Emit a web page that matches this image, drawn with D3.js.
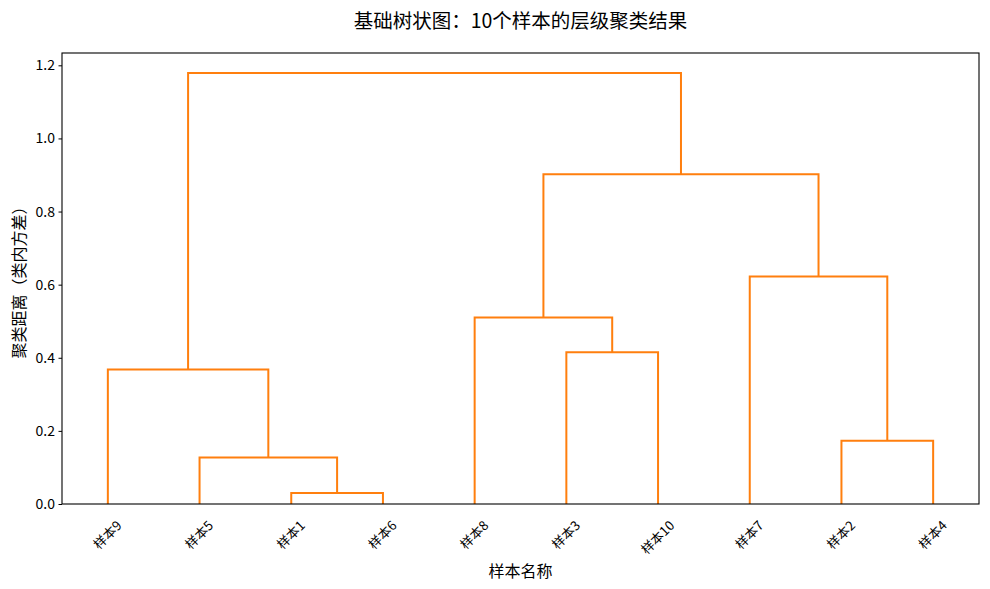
<!DOCTYPE html>
<html>
<head>
<meta charset="utf-8">
<script src="https://cdn.jsdelivr.net/npm/d3@7/dist/d3.min.js"></script>
<style>
  html, body { margin: 0; padding: 0; background: #fff; }
  svg { display: block; font-family: "Noto Sans CJK SC", "Noto Sans", sans-serif; }
</style>
</head>
<body>
<svg id="chart" width="990" height="589"></svg>
<script>
// Leaf order as drawn
const leaves = ["样本9", "样本5", "样本1", "样本6", "样本8", "样本3", "样本10", "样本7", "样本2", "样本4"];
// Merge steps: [left child, right child, height]; children are leaf names or merge ids "m#"
const mergeLeft   = ["样本1", "样本5", "样本9", "样本2", "样本3", "样本8", "样本7", "m5", "m2"];
const mergeRight  = ["样本6", "m0",   "m1",   "样本4", "样本10", "m4",  "m3",  "m6", "m7"];
const mergeHeight = [0.030, 0.127, 0.368, 0.173, 0.415, 0.510, 0.622, 0.902, 1.179];
const yTicks = [0.0, 0.2, 0.4, 0.6, 0.8, 1.0, 1.2];

const title = "基础树状图：10个样本的层级聚类结果";
const xLabel = "样本名称";
const yLabel = "聚类距离（类内方差）";

const W = 990, H = 589;
const m = { left: 62, right: 11, top: 53, bottom: 85 };
const pw = W - m.left - m.right, ph = H - m.top - m.bottom;
const color = "#ff7f0e";

const svg = d3.select("#chart");
const g = svg.append("g").attr("transform", `translate(${m.left},${m.top})`);

const x = d3.scaleLinear().domain([0, leaves.length * 10]).range([0, pw]);
const y = d3.scaleLinear().domain([0, 1.2337]).range([ph, 0]);

// positions
const pos = {};
leaves.forEach((l, i) => pos[l] = { x: 5 + 10 * i, h: 0 });
const links = [];
mergeHeight.forEach((h, i) => {
  const a = pos[mergeLeft[i]], b = pos[mergeRight[i]];
  links.push({ a, b, h });
  pos["m" + i] = { x: (a.x + b.x) / 2, h };
});

g.selectAll("path.link").data(links).join("path")
  .attr("class", "link")
  .attr("fill", "none")
  .attr("stroke", color)
  .attr("stroke-width", 2)
  .attr("d", d => `M${x(d.a.x)},${y(d.a.h)}V${y(d.h)}H${x(d.b.x)}V${y(d.b.h)}`);

// frame
g.append("rect").attr("x", 0).attr("y", 0).attr("width", pw).attr("height", ph)
  .attr("fill", "none").attr("stroke", "#000").attr("stroke-width", 1.1);

// y axis
const ya = g.append("g").call(d3.axisLeft(y).tickValues(yTicks).tickFormat(d3.format(".1f")).tickSize(3.5).tickPadding(3.5));
ya.select(".domain").remove();
ya.selectAll("text").attr("font-size", 14).attr("fill", "#000").attr("font-family", "Noto Sans CJK SC");
ya.selectAll("line").attr("stroke", "#000");

// x tick labels, rotated 45
const xl = g.append("g");
leaves.forEach((l, i) => {
  const t = xl.append("text").text(l)
    .attr("font-size", 13).attr("fill", "#000")
    .attr("text-anchor", "middle").attr("dominant-baseline", "central");
  const w = t.node().getComputedTextLength();
  const hh = 13;
  const cy = ph + 14 + (w + hh) / (2 * Math.SQRT2);
  const cx = x(5 + 10 * i) - 1;
  t.attr("transform", `translate(${cx},${cy}) rotate(-45)`);
});

// labels
svg.append("text").text(title)
  .attr("x", m.left + pw / 2).attr("y", 19)
  .attr("text-anchor", "middle").attr("dominant-baseline", "central")
  .attr("font-size", 19.5).attr("fill", "#000");

svg.append("text").text(xLabel)
  .attr("x", m.left + pw / 2).attr("y", 570)
  .attr("text-anchor", "middle").attr("dominant-baseline", "central")
  .attr("font-size", 16).attr("fill", "#000");

svg.append("text").text(yLabel)
  .attr("transform", `translate(18,${m.top + ph / 2}) rotate(-90)`)
  .attr("text-anchor", "middle").attr("dominant-baseline", "central")
  .attr("font-size", 16).attr("fill", "#000");
</script>
</body>
</html>
